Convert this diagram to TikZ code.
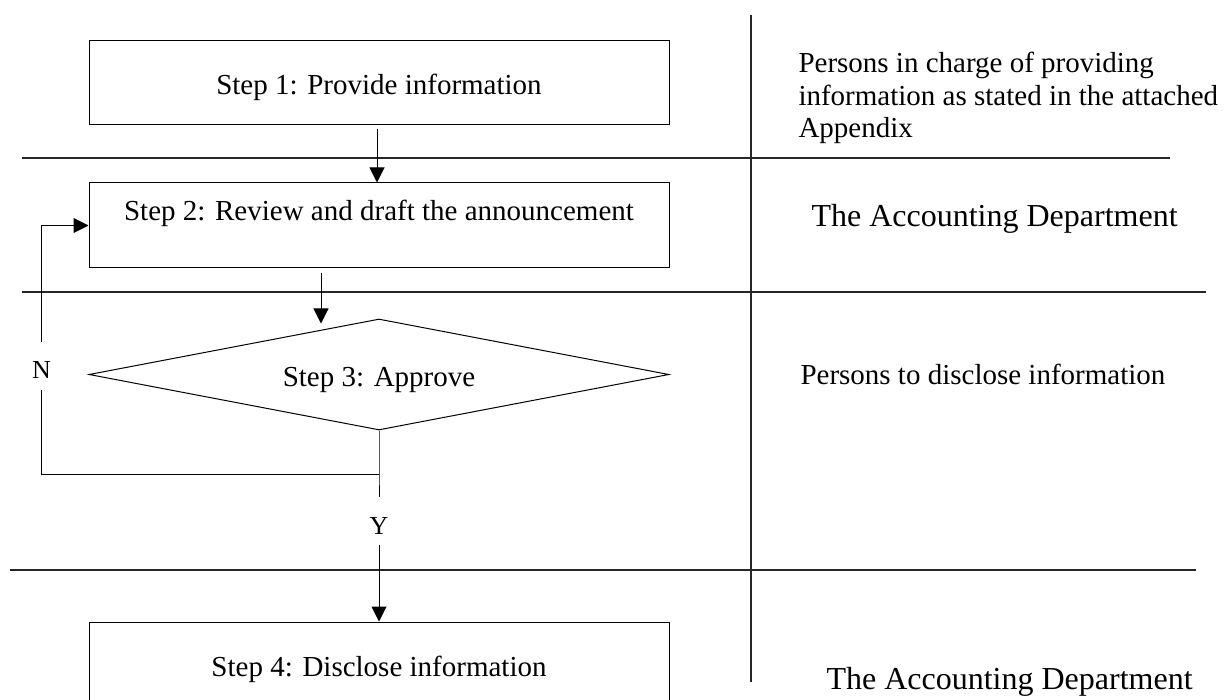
\documentclass[tikz,border=0pt]{standalone}
\usepackage{fontspec}
\setmainfont{Liberation Serif}
\usetikzlibrary{arrows.meta,shapes.geometric}
\begin{document}
\begin{tikzpicture}[x=1pt,y=-1pt,
  line width=1pt,
  stepbox/.style={draw, rectangle, minimum width=580pt, inner sep=0pt},
  decision/.style={draw, diamond, aspect=5.2, minimum width=580pt, minimum height=111pt, inner sep=0pt},
  steptext/.style={font=\fontsize{29}{32.5}\selectfont, inner sep=0pt},
  roletext/.style={font=\fontsize{29}{32.5}\selectfont, inner sep=0pt, align=left},
  depttext/.style={font=\fontsize{32}{36}\selectfont, inner sep=0pt},
  yn/.style={font=\fontsize{26}{30}\selectfont, inner sep=0pt, minimum height=47pt, text height=26pt, text depth=0pt},
  sep/.style={line width=1.2pt, black!85},
  arr/.style={-{Triangle[length=15pt,width=15pt]}}]
\clip (0,0) rectangle (1225,700);
\fill[white] (0,0) rectangle (1225,700);

% lane separators
\draw[sep] (751,15) -- (751,682);
\draw[sep] (22,158) -- (1170,158);
\draw[sep] (22,292) -- (1206,292);
\draw[sep] (10,570) -- (1196,570);

% steps
\node[stepbox, minimum height=84pt] (s1) at (379,83) {};
\node[steptext] (s1t) at (379,87) {Step 1: Provide information};
\node[stepbox, minimum height=85pt] (s2) at (379,225.5) {};
\node[steptext] (s2t) at (379,213) {Step 2: Review and draft the announcement};
\node[decision] (d) at (379,374.5) {};
\node[steptext] (dt) at (379,380) {Step 3: Approve};
\node[stepbox, minimum height=90pt] (s4) at (379,667) {};
\node[steptext] (s4t) at (379,669) {Step 4: Disclose information};

% labels N / Y
\node[yn] (N) at (41.5,365.5) {N};
\node[yn] (Y) at (379,521) {Y};
\coordinate (j) at (379,474);

% connectors
\draw[arr] ([shift={(-2,4)}]s1.south) -- ([xshift=-2]s2.north);
\draw[arr] ([shift={(-58,5)}]s2.south) -- ([shift={(-58,5)}]d.north);
\draw (d.south) -- (j) -- (Y.north);
\draw (j) -| (N.south);
\draw[arr] (N.north) |- (s2.west);
\draw[arr] (Y.south) -- (s4.north);

% roles
\node[roletext, anchor=north west] (r1) at (798,52) {Persons in charge of providing\\information as stated in the attached\\Appendix};
\node[depttext, anchor=west] (r2) at (811,219) {The Accounting Department};
\node[roletext, anchor=west] (r3) at (800,374) {Persons to disclose information};
\node[depttext, anchor=west] (r4) at (826,682) {The Accounting Department};
\end{tikzpicture}
\end{document}
